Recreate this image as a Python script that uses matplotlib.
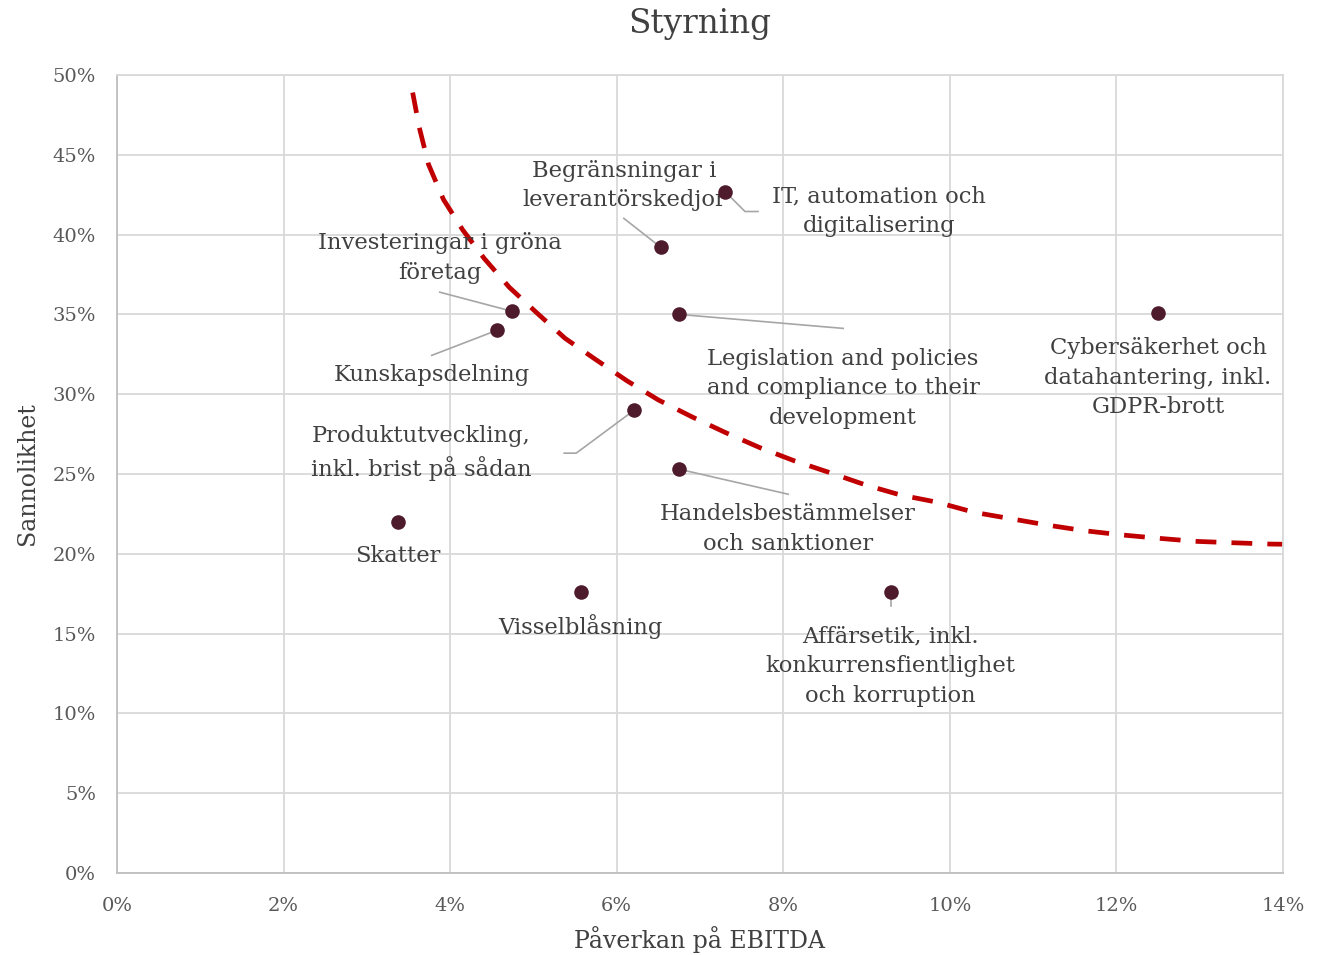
import matplotlib
matplotlib.use("Agg")
import matplotlib.pyplot as plt
from matplotlib.ticker import FuncFormatter
from matplotlib.transforms import Affine2D

plt.rcParams['font.family'] = ['DejaVu Serif']

# Riskpunkter: påverkan på EBITDA (%) och sannolikhet (%)
labels = [
    "Skatter",
    "Visselblåsning",
    "Kunskapsdelning",
    "Investeringar i gröna\nföretag",
    "Produktutveckling,\ninkl. brist på sådan",
    "Begränsningar i\nleverantörskedjor",
    "IT, automation och\ndigitalisering",
    "Legislation and policies\nand compliance to their\ndevelopment",
    "Cybersäkerhet och\ndatahantering, inkl.\nGDPR-brott",
    "Handelsbestämmelser\noch sanktioner",
    "Affärsetik, inkl.\nkonkurrensfientlighet\noch korruption",
]
impact = [3.37, 5.57, 4.56, 4.74, 6.21, 6.53, 7.30, 6.75, 12.50, 6.75, 9.29]
prob = [22.0, 17.6, 34.0, 35.2, 29.0, 39.2, 42.7, 35.0, 35.1, 25.3, 17.6]

# Tröskelkurva
curve_x = [3.55, 3.63, 3.74, 3.92, 4.15, 4.41, 4.71, 5.04, 5.38, 5.74, 6.12,
           6.50, 6.90, 7.30, 7.71, 8.13, 8.55, 8.99, 9.41, 9.85, 10.29, 10.73,
           11.17, 11.61, 12.07, 12.51, 12.95, 13.41, 13.85, 14.0]
curve_y = [48.9, 46.7, 44.4, 42.2, 40.3, 38.5, 36.7, 35.1, 33.5, 32.2, 30.85,
           29.64, 28.59, 27.61, 26.67, 25.83, 25.10, 24.31, 23.68, 23.23, 22.60,
           22.20, 21.80, 21.45, 21.18, 20.97, 20.78, 20.69, 20.61, 20.6]

# etikettlayout i pixlar relativt punkten (y uppåt): textens mitt + ledarlinje
text_off = [(0, -34), (0, -34), (-65, -45), (-72, 53), (-213, -43), (-37, 62),
            (154, -20), (164, -74), (0, -65), (109, -60), (0, -74)]
leader = [None, None, [(-65, -25)], [(-72, 19)], [(-58, -43), (-70, -43)],
          [(-37, 29)], [(20, -20), (33, -20)], [(164, -14)], None,
          [(109, -25)], [(0, -14)]]

text_col = "#404040"
tick_col = "#595959"
grid_col = "#d9d9d9"

fig = plt.figure(figsize=(13.18, 9.55), dpi=100)
ax = fig.add_axes([117 / 1318, 1 - 873 / 955, 1166 / 1318, 798 / 955])

ax.set_xlim(0, 14)
ax.set_ylim(0, 50)
ax.set_xticks(range(0, 15, 2))
ax.set_yticks(range(0, 51, 5))
fmt = FuncFormatter(lambda v, p: f"{v:.0f}%")
ax.xaxis.set_major_formatter(fmt)
ax.yaxis.set_major_formatter(fmt)
ax.grid(True, color=grid_col, linewidth=1.3)
ax.set_axisbelow(True)
for s in ["top", "right"]:
    ax.spines[s].set_color(grid_col)
    ax.spines[s].set_linewidth(1.3)
for s in ["left", "bottom"]:
    ax.spines[s].set_color("#bfbfbf")
    ax.spines[s].set_linewidth(1.3)
ax.tick_params(length=0, labelsize=14, labelcolor=tick_col)
ax.tick_params(axis="y", pad=15)
ax.tick_params(axis="x", pad=17)

ax.plot(curve_x, curve_y, color="#c00000", linewidth=3.4,
        dashes=(4.4, 3.2), zorder=2)

for i, lab in enumerate(labels):
    x, y = impact[i], prob[i]
    if leader[i] is not None:
        px, py = ax.transData.transform((x, y))
        pts = [(0, 0)] + leader[i]
        ax.plot([p[0] for p in pts], [p[1] for p in pts], color="#a6a6a6",
                lw=1.2, transform=Affine2D().translate(px, py), zorder=3)
    ax.annotate(lab, xy=(x, y), xytext=text_off[i], textcoords="offset pixels",
                ha="center", va="center", fontsize=16.3, color=text_col,
                linespacing=1.45, zorder=4)

ax.scatter(impact, prob, s=110, color="#4e1b2d", zorder=5, linewidths=0)

ax.set_title("Styrning", fontsize=23.5, color=text_col, pad=30)
ax.set_xlabel("Påverkan på EBITDA", fontsize=17, color=text_col, labelpad=8)
ax.set_ylabel("Sannolikhet", fontsize=17, color=text_col, labelpad=10)

fig.savefig("out.png", dpi=100)
